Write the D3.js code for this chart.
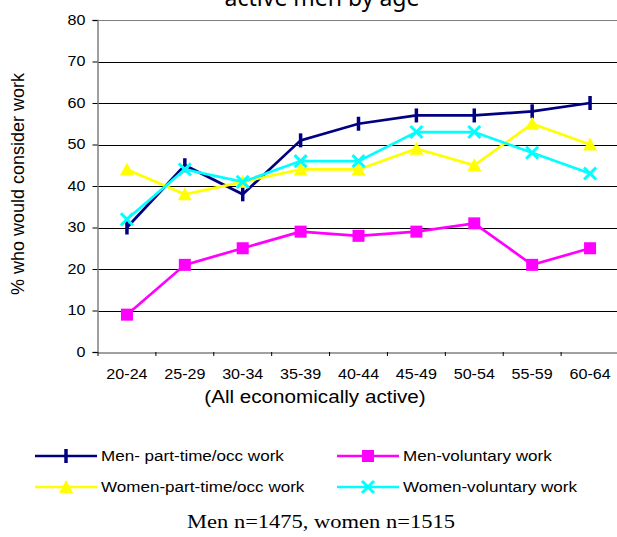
<!DOCTYPE html>
<html>
<head>
<meta charset="utf-8">
<script src="https://cdn.jsdelivr.net/npm/d3@7"></script>
<style>
  html, body { margin: 0; padding: 0; background: #fff; }
  svg { display: block; }
</style>
</head>
<body>
<svg id="chart" width="617" height="537"></svg>
<script>
const ageGroups = ['20-24', '25-29', '30-34', '35-39', '40-44', '45-49', '50-54', '55-59', '60-64'];
const yTicks = [0, 10, 20, 30, 40, 50, 60, 70, 80];

const menPartTime = [30, 45, 38, 51, 55, 57, 57, 58, 60];
const menVoluntary = [9, 21, 25, 29, 28, 29, 31, 21, 25];
const womenPartTime = [44, 38, 41, 44, 44, 49, 45, 55, 50];
const womenVoluntary = [32, 44, 41, 46, 46, 53, 53, 48, 43];

const seriesNames = ['Men- part-time/occ work', 'Men-voluntary work', 'Women-part-time/occ work', 'Women-voluntary work'];

const series = [
  { name: seriesNames[0], values: menPartTime, color: '#000080', marker: 'bar' },
  { name: seriesNames[1], values: menVoluntary, color: '#ff00ff', marker: 'square' },
  { name: seriesNames[2], values: womenPartTime, color: '#ffff00', marker: 'triangle' },
  { name: seriesNames[3], values: womenVoluntary, color: '#00ffff', marker: 'cross' }
];

const svg = d3.select('#chart');
const plotLeft = 98, plotRight = 619, plotTop = 20, plotBottom = 352;
const sans = '"Liberation Sans", Arial, sans-serif';

// the original picture is stretched sideways, so widen text to match
function stretch(sel, k) {
  sel.each(function () {
    const len = this.getComputedTextLength();
    d3.select(this).attr('textLength', len * k).attr('lengthAdjust', 'spacingAndGlyphs');
  });
}

const x = d3.scaleBand().domain(ageGroups).range([plotLeft, plotRight]);
const y = d3.scaleLinear().domain([0, 80]).range([plotBottom, plotTop]);

// gridlines
svg.append('g')
  .selectAll('line')
  .data(yTicks.filter(d => d > 0))
  .join('line')
  .attr('x1', plotLeft).attr('x2', 617)
  .attr('y1', d => Math.round(y(d)) + 0.5).attr('y2', d => Math.round(y(d)) + 0.5)
  .attr('stroke', d => d === 80 ? '#808080' : '#000')
  .attr('stroke-width', 1);

// y axis
const yAxis = svg.append('g')
  .attr('transform', `translate(${plotLeft - 0.5},0)`)
  .call(d3.axisLeft(y).tickValues(yTicks).tickSize(5).tickPadding(7))
  .style('font-family', sans)
  .style('font-size', '14px');
yAxis.select('.domain').attr('stroke', '#808080').attr('stroke-width', 1.5);
yAxis.selectAll('.tick line').attr('stroke', '#000');
yAxis.selectAll('.tick text').attr('fill', '#000').call(stretch, 1.15);

// x axis
const xAxis = svg.append('g')
  .attr('transform', `translate(0,${plotBottom + 0.5})`)
  .call(d3.axisBottom(x).tickSize(0).tickPadding(17))
  .style('font-family', sans)
  .style('font-size', '14px');
xAxis.select('.domain').attr('stroke', '#808080').attr('stroke-width', 1.5);
xAxis.selectAll('.tick text').attr('fill', '#000').call(stretch, 1.15);

// tick marks between categories
svg.append('g')
  .selectAll('line')
  .data(ageGroups)
  .join('line')
  .attr('x1', d => x(d)).attr('x2', d => x(d))
  .attr('y1', plotBottom).attr('y2', plotBottom + 4)
  .attr('stroke', '#000');

// axis titles
svg.append('text')
  .attr('x', 315)
  .attr('y', 403)
  .attr('text-anchor', 'middle')
  .style('font-family', sans)
  .style('font-size', '17.5px')
  .text('(All economically active)')
  .call(stretch, 1.18);

svg.append('text')
  .attr('transform', 'translate(24,184) rotate(-90)')
  .attr('text-anchor', 'middle')
  .style('font-family', sans)
  .style('font-size', '18px')
  .text('% who would consider work');

// title (cut off at the top, as in the original)
svg.append('text')
  .attr('x', 322)
  .attr('y', 6)
  .attr('text-anchor', 'middle')
  .style('font-family', '"Noto Sans", "Open Sans", sans-serif')
  .style('font-size', '23px')
  .text('active men by age');

// markers
function drawMarker(g, type, color) {
  if (type === 'bar') {
    g.append('line').attr('x1', 0).attr('x2', 0).attr('y1', -7).attr('y2', 7)
      .attr('stroke', color).attr('stroke-width', 3.5);
  } else if (type === 'square') {
    g.append('rect').attr('x', -6).attr('y', -6).attr('width', 12).attr('height', 12)
      .attr('fill', color);
  } else if (type === 'triangle') {
    g.append('path').attr('d', 'M0,-7L7,6L-7,6Z').attr('fill', color);
  } else if (type === 'cross') {
    g.append('path').attr('d', 'M-6,-6L6,6M-6,6L6,-6')
      .attr('stroke', color).attr('stroke-width', 3);
  }
}

const line = d3.line()
  .x((d, i) => x(ageGroups[i]) + x.bandwidth() / 2)
  .y(d => y(d));

series.forEach(s => {
  svg.append('path')
    .datum(s.values)
    .attr('fill', 'none')
    .attr('stroke', s.color)
    .attr('stroke-width', 2.7)
    .attr('d', line);
  s.values.forEach((v, i) => {
    const g = svg.append('g')
      .attr('transform', `translate(${x(ageGroups[i]) + x.bandwidth() / 2},${y(v)})`);
    drawMarker(g, s.marker, s.color);
  });
});

// legend
const legendPos = [
  { x1: 35, x2: 97, ty: 456, tx: 101 },
  { x1: 337, x2: 399, ty: 456, tx: 403 },
  { x1: 35, x2: 97, ty: 487, tx: 101 },
  { x1: 337, x2: 399, ty: 487, tx: 403 }
];
series.forEach((s, i) => {
  const p = legendPos[i];
  const lg = svg.append('g');
  lg.append('line')
    .attr('x1', p.x1).attr('x2', p.x2)
    .attr('y1', p.ty).attr('y2', p.ty)
    .attr('stroke', s.color).attr('stroke-width', 2.7);
  const m = lg.append('g').attr('transform', `translate(${(p.x1 + p.x2) / 2},${p.ty})`);
  drawMarker(m, s.marker, s.color);
  lg.append('text')
    .attr('x', p.tx)
    .attr('y', p.ty)
    .attr('dy', '0.35em')
    .style('font-family', sans)
    .style('font-size', '15.5px')
    .text(s.name)
    .call(stretch, 1.1);
});

// footnote
svg.append('text')
  .attr('x', 321)
  .attr('y', 528)
  .attr('text-anchor', 'middle')
  .style('font-family', '"Liberation Serif", "Times New Roman", serif')
  .style('font-size', '18px')
  .text('Men n=1475, women n=1515')
  .call(stretch, 1.25);
</script>
</body>
</html>
